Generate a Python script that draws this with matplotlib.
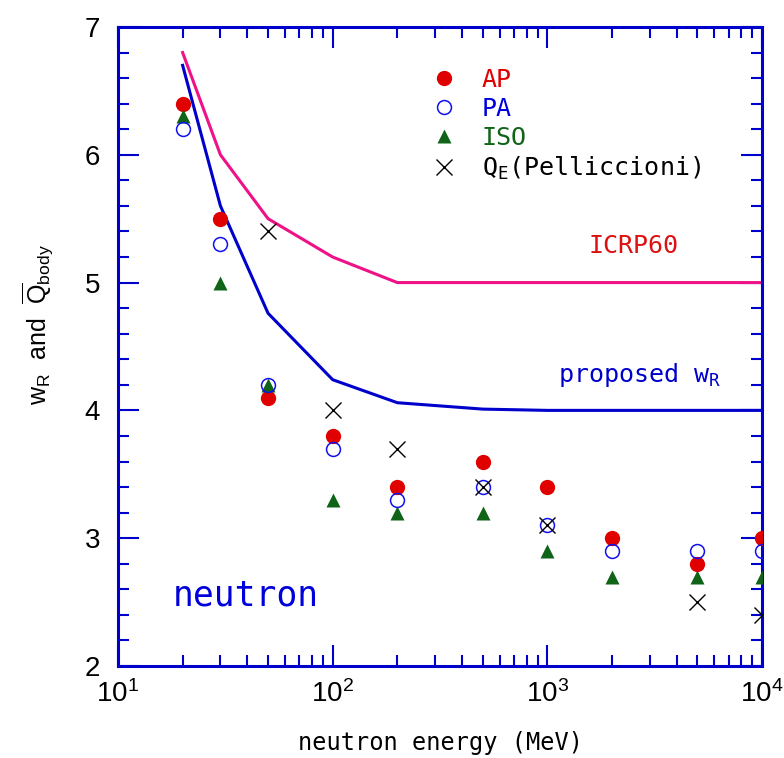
import matplotlib
matplotlib.use('Agg')
import matplotlib.pyplot as plt
from matplotlib.ticker import LogLocator, MultipleLocator, FixedLocator, NullFormatter

plt.rcParams['mathtext.default'] = 'regular'

energy = [20, 30, 50, 100, 200, 500, 1000, 2000, 5000, 10000]
q_ap = [6.4, 5.5, 4.1, 3.8, 3.4, 3.6, 3.4, 3.0, 2.8, 3.0]
q_pa = [6.2, 5.3, 4.2, 3.7, 3.3, 3.4, 3.1, 2.9, 2.9, 2.9]
q_iso = [6.3, 5.0, 4.2, 3.3, 3.2, 3.2, 2.9, 2.7, 2.7, 2.7]

qe_energy = [50, 100, 200, 500, 1000, 5000, 10000]
qe_pell = [5.4, 4.0, 3.7, 3.4, 3.1, 2.5, 2.4]

icrp60_energy = [20, 30, 50, 100, 200, 10000]
icrp60_wr = [6.8, 6.0, 5.5, 5.2, 5.0, 5.0]

prop_energy = [20, 30, 50, 100, 200, 500, 1000, 10000]
prop_wr = [6.7, 5.6, 4.76, 4.24, 4.06, 4.01, 4.0, 4.0]

blue = '#0000cc'
mono = 'DejaVu Sans Mono'
sans = ['Liberation Sans', 'DejaVu Sans']

fig = plt.figure(figsize=(7.84, 7.58), dpi=100)
ax = fig.add_axes([0.1505, 0.1214, 0.8215, 0.843])

ax.plot(icrp60_energy, icrp60_wr, color='#ee1188', lw=2.2, zorder=2)
ax.plot(prop_energy, prop_wr, color=blue, lw=2.2, zorder=2)

h1, = ax.plot(energy, q_ap, 'o', ms=11, color='#e00000', mec='none', label='AP', zorder=3)
h2, = ax.plot(energy, q_pa, 'o', ms=10, mfc='none', mec='#1111ee', mew=1.1, label='PA', zorder=4)
h3, = ax.plot(energy, q_iso, '^', ms=10, color='#0f6418', mec='none', label='ISO', zorder=3)
h4, = ax.plot(qe_energy, qe_pell, 'x', ms=11, color='black', mew=1.0,
              label='Q$_E$(Pelliccioni)', zorder=5)

ax.set_xscale('log')
ax.set_xlim(10, 1e4)
ax.set_ylim(2, 7)
ax.xaxis.set_major_locator(FixedLocator([10, 100, 1000, 10000]))
ax.xaxis.set_minor_locator(LogLocator(base=10, subs=range(2, 10)))
ax.xaxis.set_minor_formatter(NullFormatter())
ax.set_xticklabels(['$10^{1}$', '$10^{2}$', '$10^{3}$', '$10^{4}$'])
ax.yaxis.set_major_locator(MultipleLocator(1))
ax.yaxis.set_minor_locator(MultipleLocator(0.2))

for sp in ax.spines.values():
    sp.set_color(blue)
    sp.set_linewidth(2.2)
ax.tick_params(which='both', direction='in', top=True, right=True, color=blue, width=1.5)
ax.tick_params(which='major', length=15, labelsize=20)
ax.tick_params(axis='y', which='major', pad=13)
ax.tick_params(axis='x', which='major', pad=10)
ax.tick_params(which='minor', length=8)
for lab in ax.get_xticklabels() + ax.get_yticklabels():
    lab.set_family(sans)

ax.set_xlabel('neutron energy (MeV)', family=mono, fontsize=17, va='baseline')
ax.xaxis.set_label_coords(0.5, -0.131)
ax.set_ylabel(r'$w_R$  and  $\overline{Q}_{body}$', family=sans, fontsize=18)
ax.yaxis.set_label_coords(-0.098, 0.535)

ax.text(2506, 5.29, 'ICRP60', color='#dd1111', family=mono, fontsize=18, ha='center', va='center')
ax.text(1119, 4.222, 'proposed w$_R$', color=blue, family=mono, fontsize=18, ha='left', va='baseline')
ax.text(18, 2.477, 'neutron', color='#0000dd', family=mono, fontsize=25, ha='left', va='baseline')

leg = ax.legend(handles=[h1, h2, h3, h4], loc='upper left', bbox_to_anchor=(0.468, 0.955),
                frameon=False, prop={'family': mono, 'size': 18}, handlelength=1,
                handletextpad=1.0, labelspacing=0.2, borderpad=0, numpoints=1)
for txt, c in zip(leg.get_texts(), ['#e00000', '#0000dd', '#0f6418', 'black']):
    txt.set_color(c)

fig.savefig('out.png', dpi=100)
